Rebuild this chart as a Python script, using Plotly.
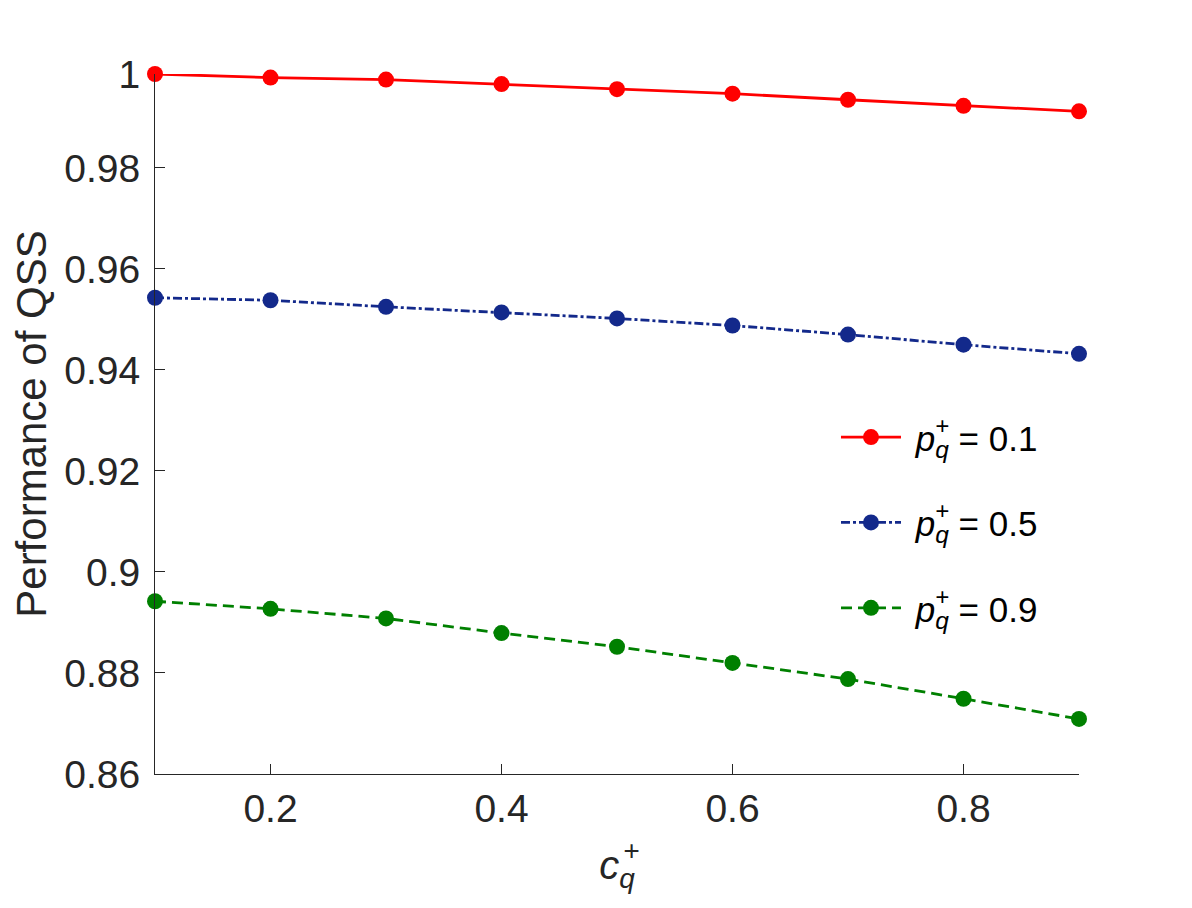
import plotly.graph_objects as go

# x values (c_q^+)
c_q = [0.1, 0.2, 0.3, 0.4, 0.5, 0.6, 0.7, 0.8, 0.9]

# performance of QSS for each p_q^+
perf_p01 = [0.9986, 0.9979, 0.9975, 0.9966, 0.9956, 0.9947, 0.9935, 0.9923, 0.9912]
perf_p05 = [0.9543, 0.9538, 0.9525, 0.9514, 0.9502, 0.9488, 0.9470, 0.9450, 0.9432]
perf_p09 = [0.8942, 0.8927, 0.8908, 0.8879, 0.8852, 0.8820, 0.8788, 0.8749, 0.8709]

p_values = ["0.1", "0.5", "0.9"]

x_tick_vals = [0.2, 0.4, 0.6, 0.8]
x_tick_text = ["0.2", "0.4", "0.6", "0.8"]
y_tick_vals = [0.86, 0.88, 0.90, 0.92, 0.94, 0.96, 0.98, 0.9986]
y_tick_text = ["0.86", "0.88", "0.9", "0.92", "0.94", "0.96", "0.98", "1"]

FONT = "Liberation Sans, Arial, sans-serif"
INK = "#262626"
NB = "\u00a0"

# colour, dash, legend id, legend y (paper)
styles = [
    ("#ff0000", "solid", "legend", 0.481),
    ("#13298b", "9px,3px,3px,3px", "legend2", 0.359),
    ("#008000", "11px,6px", "legend3", 0.237),
]

fig = go.Figure()
for vals, pv, (color, dash, leg, _) in zip([perf_p01, perf_p05, perf_p09], p_values, styles):
    fig.add_trace(go.Scatter(
        x=c_q, y=vals, mode="lines+markers",
        name=NB + "<i>p</i><sub><i>q</i></sub>" + NB + "= " + pv,
        line=dict(color=color, width=2.8, dash=dash),
        marker=dict(size=16, color=color),
        legend=leg, showlegend=True, cliponaxis=False,
    ))

legend_common = dict(xref="paper", yref="paper", x=0.737, xanchor="left",
                     yanchor="middle", bgcolor="rgba(0,0,0,0)",
                     font=dict(family=FONT, size=35, color="black"), itemwidth=60)
fig.update_layout(
    showlegend=True,
    legend=dict(y=styles[0][3], **legend_common),
    legend2=dict(y=styles[1][3], **legend_common),
    legend3=dict(y=styles[2][3], **legend_common),
)

# superscript "+" stacked over the subscript q
annotations = []
for _, _, _, ly in styles:
    annotations.append(dict(text="<i>+</i>", xref="paper", yref="paper", x=0.852, y=ly,
                            yshift=12, xanchor="center", yanchor="middle", showarrow=False,
                            font=dict(family=FONT, size=24, color="black")))
annotations.append(dict(text="<i>+</i>", xref="paper", yref="paper", x=0.515, y=-0.1086,
                        xanchor="center", yanchor="middle", showarrow=False,
                        font=dict(family=FONT, size=28, color=INK)))

fig.update_xaxes(
    range=[0.1, 0.9], tickvals=x_tick_vals, ticktext=x_tick_text,
    ticks="inside", ticklen=10, tickcolor=INK, tickwidth=1,
    showline=True, linecolor=INK, linewidth=1, showgrid=False, zeroline=False,
    tickfont=dict(family=FONT, size=39, color=INK),
    title=dict(text="<i>c</i><sub><i>q</i></sub>", standoff=22,
               font=dict(family=FONT, size=40, color=INK)),
)
fig.update_yaxes(
    range=[0.86, 0.9986], tickvals=y_tick_vals, ticktext=y_tick_text,
    ticks="inside", ticklen=10, tickcolor=INK, tickwidth=1,
    showline=True, linecolor=INK, linewidth=1, showgrid=False, zeroline=False,
    tickfont=dict(family=FONT, size=39, color=INK), ticklabelstandoff=6,
    title=dict(text="Performance of QSS", standoff=14,
               font=dict(family=FONT, size=42, color=INK)),
)

fig.update_layout(
    width=1184, height=900,
    margin=dict(l=147, r=113, t=66, b=134, autoexpand=False),
    plot_bgcolor="white", paper_bgcolor="white",
    annotations=annotations,
)

fig.write_html("out.html")
